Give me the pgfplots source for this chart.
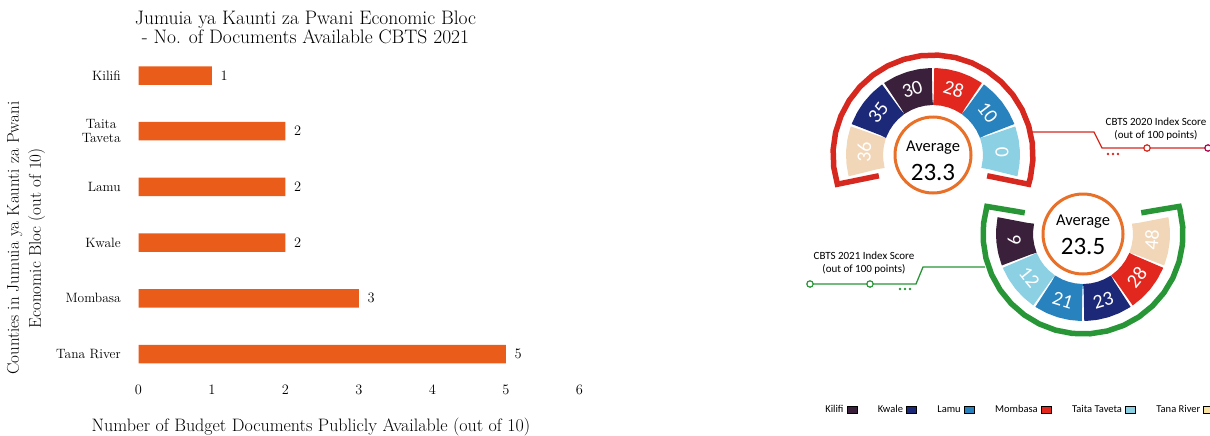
\documentclass[border=0pt]{standalone}
\usepackage{fontspec}
\usepackage{pgfplots}
\pgfplotsset{compat=1.18}
\usepgfplotslibrary{polar}
\newfontfamily\carlito{Carlito}
\definecolor{barorange}{RGB}{233,92,26}
\definecolor{kilifi}{RGB}{58,32,58}
\definecolor{kwale}{RGB}{28,40,120}
\definecolor{lamu}{RGB}{40,130,190}
\definecolor{mombasa}{RGB}{226,40,30}
\definecolor{taita}{RGB}{140,208,228}
\definecolor{tana}{RGB}{242,214,184}
\definecolor{tanaleg}{RGB}{247,226,160}
\definecolor{ringred}{RGB}{214,40,30}
\definecolor{ringgreen}{RGB}{40,150,55}
\definecolor{avgorange}{RGB}{232,112,40}
\begin{document}
\begin{tikzpicture}
% ---------------- left bar chart ----------------
\begin{axis}[
  at={(138.5pt,-381.85pt)}, anchor=south west,
  scale only axis, width=455.7pt, height=334.2pt,
  xmin=0, xmax=6.2, ymin=-0.5, ymax=5.5,
  xbar, bar width=18.5pt,
  axis line style={draw=none},
  major tick style={draw=none},
  xtick={0,1,2,3,4,5,6},
  ytick={0,1,2,3,4,5},
  yticklabels={Tana River,Mombasa,Kwale,Lamu,{Taita\\Taveta},Kilifi},
  yticklabel style={align=center, font=\fontsize{13.5}{14}\selectfont, xshift=-10pt},
  xticklabel style={font=\fontsize{14}{15}\selectfont},
  nodes near coords,
  nodes near coords style={font=\fontsize{14}{15}\selectfont, xshift=5pt},
  every axis title shift=0pt,
  title={Jumuia ya Kaunti za Pwani Economic Bloc\\- No. of Documents Available CBTS 2021},
  title style={at={(axis description cs:0.3665,1.0603)}, anchor=center, align=center, font=\fontsize{19.5}{19.5}\selectfont},
  xlabel={Number of Budget Documents Publicly Available (out of 10)},
  xlabel style={at={(axis description cs:0.3785,-0.135)}, anchor=center, font=\fontsize{18}{19}\selectfont},
  ylabel={Counties in Jumuia ya Kaunti za Pwani\\Economic Bloc (out of 10)},
  ylabel style={at={(axis description cs:-0.2469,0.43)}, anchor=center, align=center, font=\fontsize{17}{22}\selectfont},
]
\addplot[fill=barorange, draw=none] coordinates {(5,0) (3,1) (2,2) (2,3) (2,4) (1,5)};
\end{axis}
% ---------------- CBTS 2020 donut ----------------
\begin{polaraxis}[at={(933pt,-155pt)}, anchor=center, hide axis, scale only axis,
  width=240pt, height=240pt, xmin=0, xmax=360, ymin=0, ymax=120, clip=false]
\addplot[draw=tana, line width=37pt, mark=none, line join=round] coordinates {(160.75,68.5) (161.5,68.5) (169.5,68.5) (177.5,68.5) (185.5,68.5) (193.5,68.5) (194.25,68.5)};
\addplot[draw=kwale, line width=37pt, mark=none, line join=round] coordinates {(125.75,68.5) (126.5,68.5) (134.5,68.5) (142.5,68.5) (150.5,68.5) (158.5,68.5) (159.25,68.5)};
\addplot[draw=kilifi, line width=37pt, mark=none, line join=round] coordinates {(90.75,68.5) (91.5,68.5) (99.5,68.5) (107.5,68.5) (115.5,68.5) (123.5,68.5) (124.25,68.5)};
\addplot[draw=mombasa, line width=37pt, mark=none, line join=round] coordinates {(55.75,68.5) (56.5,68.5) (64.5,68.5) (72.5,68.5) (80.5,68.5) (88.5,68.5) (89.25,68.5)};
\addplot[draw=lamu, line width=37pt, mark=none, line join=round] coordinates {(20.75,68.5) (21.5,68.5) (29.5,68.5) (37.5,68.5) (45.5,68.5) (53.5,68.5) (54.25,68.5)};
\addplot[draw=taita, line width=37pt, mark=none, line join=round] coordinates {(-14.25,68.5) (-13.5,68.5) (-5.5,68.5) (2.5,68.5) (10.5,68.5) (18.5,68.5) (19.25,68.5)};
\addplot[draw=ringred, line width=5.5pt, mark=none, line join=miter] coordinates {(201,58) (197,100) (187,100) (177,100) (167,100) (157,100) (147,100) (137,100) (127,100) (117,100) (107,100) (97,100) (87,100) (77,100) (67,100) (57,100) (47,100) (37,100) (27,100) (17,100) (7,100) (-3,100) (-13,100) (-17,100) (-21,58)};
\begin{scope}[font=\carlito\fontsize{20}{20}\selectfont, text=white, inner sep=0pt]
\node[rotate=87.5] at (axis cs:177.5,69) {36};
\node[rotate=52.5] at (axis cs:142.5,69) {35};
\node[rotate=17.5] at (axis cs:107.5,69) {30};
\node[rotate=-17.5] at (axis cs:72.5,69) {28};
\node[rotate=-52.5] at (axis cs:37.5,69) {10};
\node[rotate=-87.5] at (axis cs:2.5,69) {0};
\end{scope}
\draw[avgorange, line width=3pt, fill=white] (axis cs:0,0) circle[radius=38pt];
\end{polaraxis}
% ---------------- CBTS 2021 donut ----------------
\begin{polaraxis}[at={(1083pt,-234pt)}, anchor=center, hide axis, scale only axis,
  width=240pt, height=240pt, xmin=0, xmax=360, ymin=0, ymax=120, clip=false]
\addplot[draw=kilifi, line width=37pt, mark=none, line join=round] coordinates {(168.75,68.5) (169.5,68.5) (177.25,68.5) (185,68.5) (192.75,68.5) (200.5,68.5) (201.25,68.5)};
\addplot[draw=taita, line width=37pt, mark=none, line join=round] coordinates {(202.75,68.5) (203.5,68.5) (211.25,68.5) (219,68.5) (226.75,68.5) (234.5,68.5) (235.25,68.5)};
\addplot[draw=lamu, line width=37pt, mark=none, line join=round] coordinates {(236.75,68.5) (237.5,68.5) (245.25,68.5) (253,68.5) (260.75,68.5) (268.5,68.5) (269.25,68.5)};
\addplot[draw=kwale, line width=37pt, mark=none, line join=round] coordinates {(270.75,68.5) (271.5,68.5) (279.25,68.5) (287,68.5) (294.75,68.5) (302.5,68.5) (303.25,68.5)};
\addplot[draw=mombasa, line width=37pt, mark=none, line join=round] coordinates {(304.75,68.5) (305.5,68.5) (313.25,68.5) (321,68.5) (328.75,68.5) (336.5,68.5) (337.25,68.5)};
\addplot[draw=tana, line width=37pt, mark=none, line join=round] coordinates {(338.75,68.5) (339.5,68.5) (347.25,68.5) (355,68.5) (362.75,68.5) (370.5,68.5) (371.25,68.5)};
\addplot[draw=ringgreen, line width=5.5pt, mark=none, line join=miter] coordinates {(160,62) (164,100) (174,100) (184,100) (194,100) (204,100) (214,100) (224,100) (234,100) (244,100) (254,100) (264,100) (274,100) (284,100) (294,100) (304,100) (314,100) (324,100) (334,100) (344,100) (354,100) (364,100) (374,100) (376,100) (380,62)};
\begin{scope}[font=\carlito\fontsize{20}{20}\selectfont, text=white, inner sep=0pt]
\node[rotate=-85] at (axis cs:185,69) {9};
\node[rotate=-51] at (axis cs:219,69) {12};
\node[rotate=-17] at (axis cs:253,69) {21};
\node[rotate=17] at (axis cs:287,69) {23};
\node[rotate=51] at (axis cs:321,69) {28};
\node[rotate=85] at (axis cs:355,69) {48};
\end{scope}
\draw[avgorange, line width=3pt, fill=white] (axis cs:0,0) circle[radius=40pt];
\end{polaraxis}
% ---------------- legend (empty helper axis) ----------------
\begin{axis}[at={(1018.5pt,-410pt)}, anchor=center, hide axis, scale only axis,
  width=380pt, height=14pt, xmin=0, xmax=1, ymin=0, ymax=1,
  legend columns=6, legend plot pos=right,
  legend image code/.code={\fill[#1] (0pt,-3.5pt) rectangle (10pt,3.5pt);},
  legend style={at={(axis description cs:0.5,0.5)}, anchor=center, draw=none, fill=none,
    inner sep=0pt, font=\carlito\fontsize{10.5}{11}\selectfont,
    /tikz/every even column/.append style={column sep=19pt},
    /tikz/every odd column/.append style={column sep=1pt}},
]
\addlegendimage{fill=kilifi}\addlegendentry{Kilifi}
\addlegendimage{fill=kwale}\addlegendentry{Kwale}
\addlegendimage{fill=lamu}\addlegendentry{Lamu}
\addlegendimage{fill=mombasa}\addlegendentry{Mombasa}
\addlegendimage{fill=taita}\addlegendentry{Taita Taveta}
\addlegendimage{fill=tanaleg}\addlegendentry{Tana River}
\end{axis}
% ---------------- annotations ----------------
\node[font=\carlito\fontsize{16.5}{16.5}\selectfont] at (933pt,-148pt) {Average};
\node[font=\carlito\fontsize{25}{25}\selectfont] at (933pt,-172pt) {23.3};
\node[font=\carlito\fontsize{16.5}{16.5}\selectfont] at (1083pt,-222pt) {Average};
\node[font=\carlito\fontsize{25}{25}\selectfont] at (1083pt,-246pt) {23.5};
% connectors
\draw[ringred, line width=1.3pt] (1031pt,-132pt) -- (1094pt,-132pt) -- (1102pt,-148pt) -- (1212pt,-148pt);
\draw[ringred, line width=1.2pt, fill=white] (1147pt,-148pt) circle[radius=3.2pt];
\draw[violet!60!red, line width=1.2pt, fill=white] (1208pt,-148pt) circle[radius=3.2pt];
\fill[ringred] (1108pt,-154pt) circle[radius=1.3pt] (1113pt,-154pt) circle[radius=1.3pt] (1118pt,-154pt) circle[radius=1.3pt];
\node[font=\carlito\fontsize{11}{13}\selectfont, align=center] at (1156pt,-129pt) {CBTS 2020 Index Score\\(out of 100 points)};
\draw[ringgreen, line width=1.3pt] (985pt,-267pt) -- (923pt,-267pt) -- (916pt,-284pt) -- (810pt,-284pt);
\draw[ringgreen, line width=1.2pt, fill=white] (810pt,-284pt) circle[radius=3.2pt];
\draw[ringgreen, line width=1.2pt, fill=white] (870pt,-284pt) circle[radius=3.2pt];
\fill[ringgreen] (900pt,-289pt) circle[radius=1.3pt] (905pt,-289pt) circle[radius=1.3pt] (910pt,-289pt) circle[radius=1.3pt];
\node[font=\carlito\fontsize{11}{13}\selectfont, align=center] at (864pt,-263.5pt) {CBTS 2021 Index Score\\(out of 100 points)};
\pgfresetboundingbox
\path[use as bounding box] (0pt,0pt) rectangle (1210pt,-436pt);
\end{tikzpicture}
\end{document}
